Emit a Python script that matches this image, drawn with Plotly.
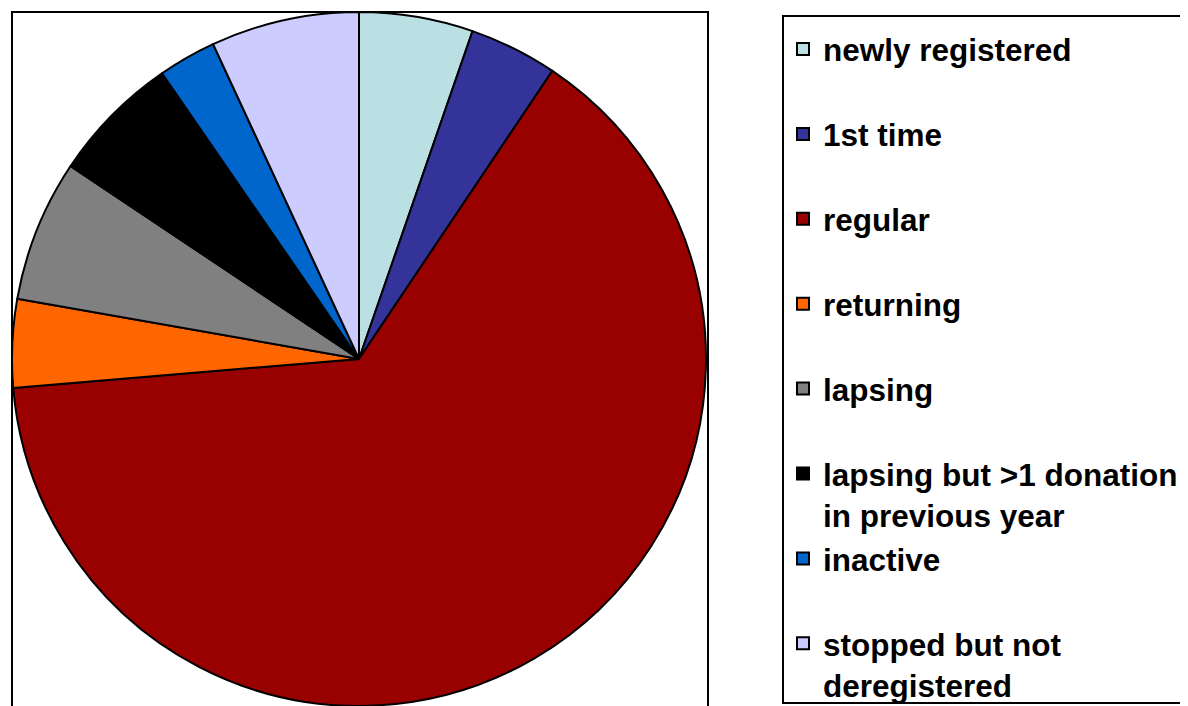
import plotly.graph_objects as go

categories = [
    "newly registered",
    "1st time",
    "regular",
    "returning",
    "lapsing",
    "lapsing but >1 donation in previous year",
    "inactive",
    "stopped but not deregistered",
]
values = [5.3, 4.1, 64.2, 4.1, 6.6, 6.0, 2.7, 6.9]
colors = ["#BBE0E3", "#333399", "#990000", "#FF6600",
          "#808080", "#000000", "#0066CC", "#CCCCFF"]

# legend text: each entry occupies two lines, like the reference
wrap = {
    "lapsing but >1 donation in previous year": "lapsing but >1 donation<br>in previous year",
    "stopped but not deregistered": "stopped but not<br>deregistered",
}
legend_labels = [wrap.get(c, c + "<br> ") for c in categories]

# page body has an 8px margin, so the figure starts at (8, 8) on screen
W, H = 1188, 706
cx, cy, r = 351, 351, 347

fig = go.Figure(go.Pie(
    labels=legend_labels,
    values=values,
    sort=False,
    direction="clockwise",
    rotation=0,
    textinfo="none",
    hoverinfo="label+percent",
    marker=dict(colors=colors, line=dict(color="black", width=2)),
    domain=dict(x=[(cx - r) / W, (cx + r) / W], y=[1 - (cy + r) / H, 1 - (cy - r) / H]),
))

fig.update_layout(
    width=W, height=H,
    margin=dict(l=0, r=0, t=0, b=0),
    paper_bgcolor="white",
    plot_bgcolor="white",
    showlegend=True,
    legend=dict(
        x=775 / W, xanchor="left",
        y=1 - 14 / H, yanchor="top",
        font=dict(family="Liberation Sans, Arial, sans-serif", size=31.5, color="black", weight="bold"),
        valign="top",
        bgcolor="rgba(0,0,0,0)",
        borderwidth=0,
        traceorder="normal",
        maxheight=900,
    ),
    shapes=[
        dict(type="rect", xref="paper", yref="paper",
             x0=4 / W, x1=700 / W, y0=-0.05, y1=1 - 4 / H,
             line=dict(color="black", width=2), fillcolor="rgba(0,0,0,0)", layer="below"),
        dict(type="rect", xref="paper", yref="paper",
             x0=775 / W, x1=1.05, y0=1 - 695 / H, y1=1 - 8 / H,
             line=dict(color="black", width=2), fillcolor="rgba(0,0,0,0)", layer="below"),
    ],
)

fig.write_html("out.html")
